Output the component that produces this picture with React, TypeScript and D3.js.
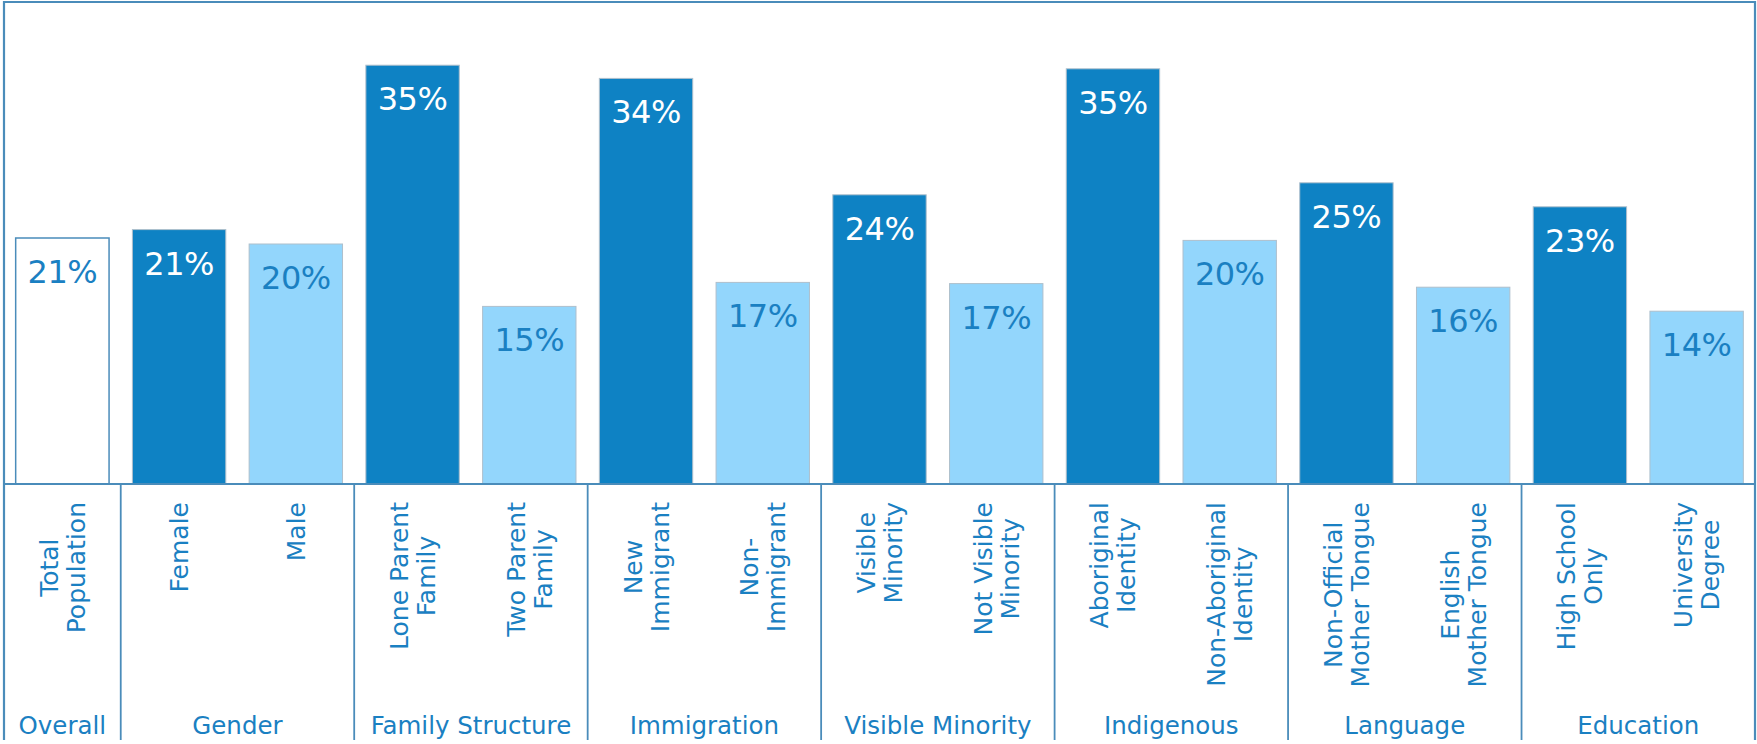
import React, {useEffect, useRef} from 'react';
import * as d3 from 'd3';

// bar categories, left to right (\n = line break in the rotated label)
const categories = [
  'Total\nPopulation',
  'Female',
  'Male',
  'Lone Parent\nFamily',
  'Two Parent\nFamily',
  'New\nImmigrant',
  'Non-\nImmigrant',
  'Visible\nMinority',
  'Not Visible\nMinority',
  'Aboriginal\nIdentity',
  'Non-Aboriginal\nIdentity',
  'Non-Official\nMother Tongue',
  'English\nMother Tongue',
  'High School\nOnly',
  'University\nDegree',
];
// bar heights as drawn (percent)
const values = [
  20.5, 21.2, 20.0, 34.9, 14.8, 33.8, 16.8, 24.1, 16.7, 34.6, 20.3, 25.1, 16.4,
  23.1, 14.4,
];
// printed labels
const valueLabels = [
  '21%', '21%', '20%', '35%', '15%', '34%', '17%', '24%', '17%', '35%', '20%',
  '25%', '16%', '23%', '14%',
];
// style of each bar: overall / focus group / comparison group
const kinds = [
  'total', 'dark', 'light', 'dark', 'light', 'dark', 'light', 'dark', 'light',
  'dark', 'light', 'dark', 'light', 'dark', 'light',
];
// groups and how many bars each one spans
const groups = [
  'Overall',
  'Gender',
  'Family Structure',
  'Immigration',
  'Visible Minority',
  'Indigenous',
  'Language',
  'Education',
];
const groupSizes = [1, 2, 2, 2, 2, 2, 2, 2];

const W = 1757;
const H = 744;
const FONT = '"DejaVu Sans", sans-serif';
const LINE = '#4a8cba';
const DARK = '#0e82c4';
const LIGHT = '#93d6fc';
const TEXT = '#1a80c2';

const App: React.FC = () => {
  const svgRef = useRef<SVGSVGElement>(null);

  useEffect(() => {
    const svg = d3.select(svgRef.current);
    svg.selectAll('*').remove();

    const left = 4;
    const right = 1755;
    const top = 2;
    const base = 484;
    const bottom = 740;

    const x = d3
      .scaleBand()
      .domain(categories.map((d, i) => d + '-' + i))
      .range([left, right])
      .paddingInner(0.2)
      .paddingOuter(0.1);
    const y = d3.scaleLinear().domain([0, 40]).range([base, top + 2]);
    const key = (i: number) => categories[i] + '-' + i;
    const gap = (x.step() - x.bandwidth()) / 2;

    // bars
    svg
      .selectAll('.bar')
      .data(values)
      .enter()
      .append('rect')
      .attr('class', 'bar')
      .attr('x', (d, i) => x(key(i)))
      .attr('y', (d) => y(d))
      .attr('width', x.bandwidth())
      .attr('height', (d) => base - y(d))
      .attr('fill', (d, i) =>
        kinds[i] === 'total' ? '#ffffff' : kinds[i] === 'dark' ? DARK : LIGHT,
      )
      .attr('stroke', (d, i) => (kinds[i] === 'total' ? LINE : '#aebfcc'))
      .attr('stroke-width', (d, i) => (kinds[i] === 'total' ? 1.5 : 1));

    // value labels inside the bars
    svg
      .selectAll('.val')
      .data(values)
      .enter()
      .append('text')
      .attr('class', 'val')
      .attr('x', (d, i) => x(key(i)) + x.bandwidth() / 2)
      .attr('y', (d) => y(d) + 45)
      .attr('text-anchor', 'middle')
      .attr('font-family', FONT)
      .attr('font-size', 32)
      .attr('letter-spacing', -0.5)
      .attr('fill', (d, i) => (kinds[i] === 'dark' ? '#ffffff' : TEXT))
      .text((d, i) => valueLabels[i]);

    // frame and baseline
    const frame = svg.append('g').attr('fill', 'none').attr('stroke', LINE);
    frame
      .append('path')
      .attr('stroke-width', 2.2)
      .attr('d', `M${left},${bottom}V${top}H${right}V${bottom}`);
    frame
      .append('line')
      .attr('stroke-width', 2)
      .attr('x1', left)
      .attr('x2', right)
      .attr('y1', base)
      .attr('y2', base);

    // group dividers and group names
    let start = 0;
    groups.forEach((g, gi) => {
      const n = groupSizes[gi];
      const x0 = x(key(start)) - gap;
      const x1 = x(key(start + n - 1)) + x.bandwidth() + gap;
      if (gi < groups.length - 1) {
        frame
          .append('line')
          .attr('stroke-width', 1.8)
          .attr('x1', x1)
          .attr('x2', x1)
          .attr('y1', base)
          .attr('y2', bottom);
      }
      svg
        .append('text')
        .attr('x', (x0 + x1) / 2)
        .attr('y', 734)
        .attr('text-anchor', 'middle')
        .attr('font-family', FONT)
        .attr('font-size', 24.5)
        .attr('fill', TEXT)
        .text(g);
      start += n;
    });

    // rotated category labels, block top-aligned, lines centred
    const lineH = 27;
    categories.forEach((c, i) => {
      const lines = c.split('\n');
      const cx = x(key(i)) + x.bandwidth() / 2;
      const g = svg.append('g');
      const t = g
        .append('text')
        .attr('text-anchor', 'middle')
        .attr('font-family', FONT)
        .attr('font-size', 25)
        .attr('fill', TEXT);
      lines.forEach((l, li) => {
        t.append('tspan')
          .attr('x', 0)
          .attr('y', (li - (lines.length - 1) / 2) * lineH + 9)
          .text(l);
      });
      let longest = 0;
      t.selectAll('tspan').each(function () {
        const len = (this as SVGTextContentElement).getComputedTextLength();
        if (len > longest) longest = len;
      });
      g.attr('transform', `translate(${cx},${502 + longest / 2}) rotate(-90)`);
    });
  }, []);

  return (
    <svg
      ref={svgRef}
      width={W}
      height={H}
      style={{position: 'absolute', left: 0, top: 0, background: '#fff'}}
    />
  );
};

export default App;
